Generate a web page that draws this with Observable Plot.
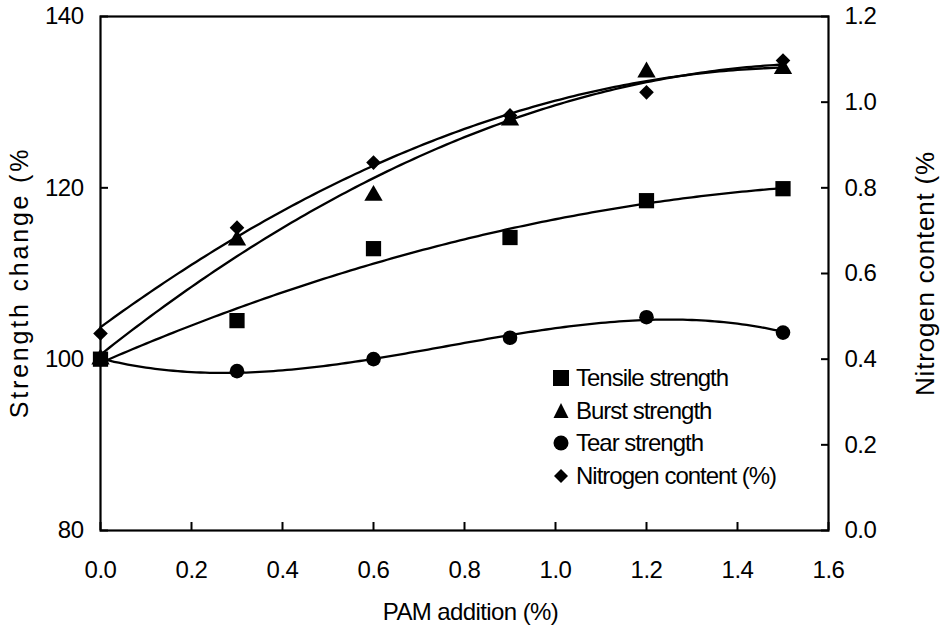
<!DOCTYPE html>
<html>
<head>
<meta charset="utf-8">
<script src="https://cdn.jsdelivr.net/npm/d3@7"></script>
<script src="https://cdn.jsdelivr.net/npm/@observablehq/plot@0.6"></script>
<style>
  html, body { margin: 0; padding: 0; background: #fff; }
  #wrap { position: relative; width: 943px; height: 627px; font-family: "Liberation Sans", Arial, sans-serif; }
  #wrap svg { display: block; }
  #legend { position: absolute; left: 551px; top: 362px; font-size: 24px; letter-spacing: -1px; color: #000; }
  #legend .row { height: 32.5px; display: flex; align-items: center; white-space: nowrap; }
  #legend svg { width: 20px; height: 20px; margin-right: 5px; flex: none; }
</style>
</head>
<body>
<div id="wrap"></div>
<script>
// PAM addition levels (%)
const pam = [0, 0.3, 0.6, 0.9, 1.2, 1.5];

// Strength change relative to the untreated sheet (%)
const tensile = [100, 104.5, 112.9, 114.2, 118.5, 119.9];
const burst   = [100, 113.9, 119.1, 127.9, 133.5, 133.9];
const tear    = [100, 98.6, 100.0, 102.5, 104.9, 103.1];

// Nitrogen content of the sheet (%), right-hand axis
const nitrogen = [0.46, 0.707, 0.859, 0.969, 1.023, 1.097];

// Axis ticks
const xTicks = [0, 0.2, 0.4, 0.6, 0.8, 1.0, 1.2, 1.4, 1.6];
const yTicks = [80, 100, 120, 140];
const nTicks = [0, 0.2, 0.4, 0.6, 0.8, 1.0, 1.2];

// Axis titles
const leftTitle = "Strength change (%";
const rightTitle = "Nitrogen content (%";
const bottomTitle = "PAM addition (%)";

// Right axis (0–1.2) shares the frame with the left axis (80–140)
const nLo = 0, nHi = 1.2, sLo = 80, sHi = 140;
const nToS = n => sLo + (n - nLo) * (sHi - sLo) / (nHi - nLo);

// Least-squares polynomial trend line
function polyfit(xs, ys, order) {
  const m = order + 1;
  const A = Array.from({length: m}, () => new Array(m + 1).fill(0));
  xs.forEach((x, k) => {
    for (let i = 0; i < m; i++) {
      for (let j = 0; j < m; j++) A[i][j] += Math.pow(x, i + j);
      A[i][m] += ys[k] * Math.pow(x, i);
    }
  });
  for (let c = 0; c < m; c++) {
    let p = c;
    for (let r = c + 1; r < m; r++) if (Math.abs(A[r][c]) > Math.abs(A[p][c])) p = r;
    [A[c], A[p]] = [A[p], A[c]];
    for (let r = 0; r < m; r++) {
      if (r === c) continue;
      const f = A[r][c] / A[c][c];
      for (let k = c; k <= m; k++) A[r][k] -= f * A[c][k];
    }
  }
  const coef = A.map((row, i) => row[m] / row[i]);
  return x => coef.reduce((s, c, i) => s + c * Math.pow(x, i), 0);
}

const series = [
  {key: "Tensile strength", values: tensile, symbol: "square", r: 8.6, order: 2},
  {key: "Burst strength", values: burst, symbol: "triangle", r: 6.8, order: 2},
  {key: "Tear strength", values: tear, symbol: "circle", r: 7.3, order: 3},
  {key: "Nitrogen content (%)", values: nitrogen.map(nToS), symbol: "diamond2", r: 6.6, order: 2}
];

const samples = d3.range(0, pam[pam.length - 1] + 1e-9, 0.01);
const points = [], curves = [];
for (const s of series) {
  pam.forEach((x, i) => points.push({series: s.key, symbol: s.symbol, r: s.r, x, y: s.values[i]}));
  const f = polyfit(pam, s.values, s.order);
  for (const x of samples) curves.push({series: s.key, x, y: f(x)});
}

const chart = Plot.plot({
  width: 943,
  height: 627,
  marginLeft: 100,
  marginRight: 115,
  marginTop: 16,
  marginBottom: 97,
  style: {fontFamily: "'Liberation Sans', Arial, sans-serif", fontSize: "24px", color: "#000", background: "#fff", overflow: "visible"},
  x: {domain: [0, 1.6]},
  y: {domain: [sLo, sHi]},
  symbol: {type: "identity"},
  r: {type: "identity"},
  marks: [
    // bottom axis: labels outside, ticks pointing into the frame
    Plot.axisX({ticks: xTicks, tickSize: 0, tickPadding: 30, tickFormat: d => d.toFixed(1), label: null}),
    Plot.axisX({ticks: xTicks, tickSize: -8, strokeWidth: 2, fill: null, label: null}),
    // left axis (strength change)
    Plot.axisY({ticks: yTicks, anchor: "left", tickSize: 0, tickPadding: 17, label: null}),
    Plot.axisY({ticks: yTicks, anchor: "left", tickSize: -8, strokeWidth: 2, fill: null, label: null}),
    // right axis (nitrogen content)
    Plot.axisY({ticks: nTicks.map(nToS), anchor: "right", tickSize: 0, tickPadding: 16,
      tickFormat: v => (nLo + (v - sLo) * (nHi - nLo) / (sHi - sLo)).toFixed(1), label: null}),
    Plot.axisY({ticks: nTicks.map(nToS), anchor: "right", tickSize: -8, strokeWidth: 2, fill: null, label: null}),
    Plot.frame({stroke: "#000", strokeWidth: 2.2}),
    // trend lines
    Plot.line(curves, {x: "x", y: "y", z: "series", stroke: "#000", strokeWidth: 2.3}),
    // measured points
    Plot.dot(points, {x: "x", y: "y", symbol: "symbol", r: "r", fill: "#000", stroke: "none"}),
    // axis titles
    Plot.text([leftTitle], {frameAnchor: "left", textAnchor: "middle", lineAnchor: "middle", rotate: -90, dx: -81, dy: 9, fontSize: 25}),
    Plot.text([rightTitle], {frameAnchor: "right", textAnchor: "middle", lineAnchor: "middle", rotate: -90, dx: 97, dy: 0, fontSize: 26}),
    Plot.text([bottomTitle], {frameAnchor: "bottom", textAnchor: "middle", lineAnchor: "middle", dx: 6, dy: 82, fontSize: 24})
  ]
});

// letter spacing per text element, keyed by its content
const spacing = new Map([[leftTitle, "2.8px"], [rightTitle, "0.8px"], [bottomTitle, "-0.6px"]]);
d3.select(chart).selectAll("text").each(function () {
  const ls = spacing.get(this.textContent);
  this.style.letterSpacing = ls || "-0.5px";
});

const wrap = document.getElementById("wrap");
wrap.appendChild(chart);

// legend drawn in the lower right of the frame
const shapes = {
  "square": '<rect x="2" y="2" width="16" height="16" fill="#000"/>',
  "triangle": '<path d="M10,2 L17.5,17 L2.5,17 Z" fill="#000"/>',
  "circle": '<circle cx="10" cy="10" r="7.5" fill="#000"/>',
  "diamond2": '<path d="M10,3 L17,10 L10,17 L3,10 Z" fill="#000"/>'
};
const legend = document.createElement("div");
legend.id = "legend";
for (const s of series) {
  const row = document.createElement("div");
  row.className = "row";
  row.innerHTML = `<svg viewBox="0 0 20 20">${shapes[s.symbol]}</svg><span>${s.key}</span>`;
  legend.appendChild(row);
}
wrap.appendChild(legend);
</script>
</body>
</html>
